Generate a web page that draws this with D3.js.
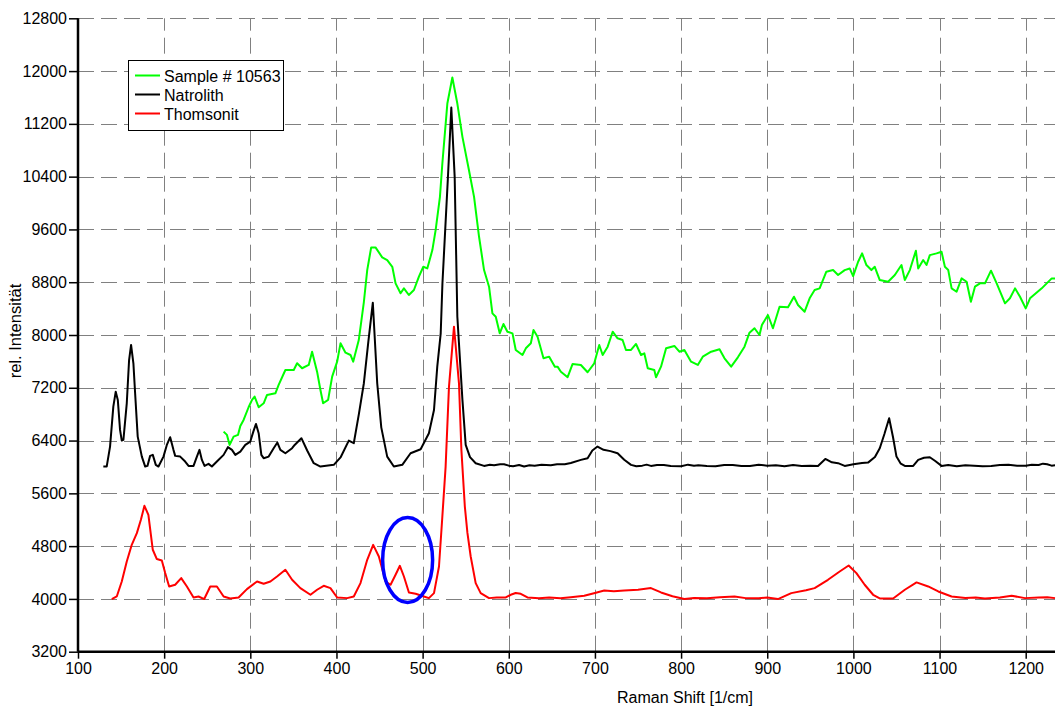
<!DOCTYPE html>
<html>
<head>
<meta charset="utf-8">
<script src="https://cdn.jsdelivr.net/npm/d3@7"></script>
<style>
  html, body { margin: 0; padding: 0; background: #fff; }
  svg { display: block; }
  text { font-family: "Liberation Sans", Arial, sans-serif; fill: #000; }
</style>
</head>
<body>
<svg id="chart" width="1057" height="727"></svg>
<script>
// ---------- DATA ----------
const xTicks = [100, 200, 300, 400, 500, 600, 700, 800, 900, 1000, 1100, 1200];
const yTicks = [3200, 4000, 4800, 5600, 6400, 7200, 8000, 8800, 9600, 10400, 11200, 12000, 12800];
const seriesNames = ["Sample # 10563", "Natrolith", "Thomsonit"];
const seriesColors = ["#00ff00", "#000000", "#ff0000"];

const sampleX = [269, 272.9, 276, 280.6, 285.7, 288.4, 292.2, 298, 302, 305, 309.7, 315.5, 319.4, 329.1, 332.9, 340.7, 346.5, 350.4, 354.3, 360.1, 367.8, 371.7, 377.5, 381.4, 384.5, 390.3, 395, 400.8, 404.7, 410.5, 416.3, 419.4, 425.9, 431.8, 435.7, 440.3, 445.3, 453.1, 458.9, 464.8, 468.6, 474.4, 478.3, 484, 489.9, 495.7, 500.8, 505.4, 511.3, 515.1, 520.1, 522.9, 528.7, 534.5, 540.3, 546.2, 553.8, 559.7, 565.5, 571.3, 577.1, 581, 584.9, 589.5, 593.8, 598.4, 604.3, 608.1, 615.9, 619.8, 625.6, 628.7, 633.4, 640.3, 646.9, 653.5, 656.6, 660.5, 668.3, 674.1, 683.7, 691.5, 699.2, 705, 709, 714.8, 720.6, 726.3, 732.1, 736, 741.9, 747.7, 753.5, 757.3, 761.3, 768.9, 770.9, 776.7, 782.6, 792.2, 798, 803.8, 811.6, 819.4, 825.2, 834.9, 844.6, 850.4, 858.1, 865.9, 873.6, 879.4, 885.2, 891, 893.8, 900.8, 906.6, 914.3, 924.1, 931, 935.7, 943.4, 949.2, 955, 960.8, 968.6, 976.4, 982.2, 989.9, 995.7, 999.7, 1005.5, 1010.1, 1015.1, 1020.9, 1024.8, 1030.6, 1040.3, 1048.1, 1055.8, 1059.7, 1065.5, 1072.5, 1075.2, 1081, 1084.9, 1088.7, 1096.5, 1102.3, 1106.2, 1110.1, 1114, 1119.8, 1125.6, 1131.4, 1136.4, 1141.1, 1146.9, 1152.7, 1159.7, 1166.3, 1176, 1181.7, 1187.6, 1193.4, 1200, 1205, 1218.6, 1230.2, 1234];
const sampleY = [6536, 6486, 6334, 6460, 6486, 6622, 6713, 6905, 7016, 7066, 6905, 6965, 7092, 7117, 7243, 7470, 7470, 7470, 7572, 7496, 7546, 7747, 7444, 7167, 6965, 7016, 7369, 7596, 7874, 7732, 7697, 7596, 7924, 8500, 8984, 9328, 9328, 9177, 9136, 9034, 8783, 8632, 8707, 8606, 8682, 8884, 9034, 9009, 9287, 9590, 10094, 10599, 11508, 11902, 11508, 11003, 10498, 10094, 9489, 8984, 8732, 8328, 8277, 8025, 8166, 8050, 8025, 7773, 7697, 7798, 7874, 8076, 7975, 7647, 7672, 7520, 7520, 7444, 7360, 7561, 7546, 7435, 7571, 7849, 7697, 7823, 8050, 7950, 7924, 7773, 7773, 7864, 7697, 7723, 7496, 7470, 7360, 7520, 7798, 7834, 7747, 7773, 7596, 7546, 7672, 7747, 7783, 7647, 7520, 7662, 7823, 8035, 8102, 8000, 8151, 8303, 8102, 8429, 8419, 8580, 8454, 8353, 8556, 8682, 8707, 8960, 8984, 8909, 8984, 9009, 8893, 9110, 9237, 9060, 8984, 9034, 8833, 8807, 8909, 9060, 8833, 8984, 9277, 9009, 9136, 9060, 9211, 9237, 9262, 9034, 8984, 8707, 8656, 8858, 8807, 8505, 8732, 8783, 8783, 8975, 8783, 8480, 8556, 8707, 8580, 8404, 8556, 8707, 8858, 8858];

const natrolithX = [129.4, 133.3, 137.2, 141, 143.8, 146.2, 148.8, 150.8, 152.7, 156.6, 159.3, 161.6, 164.3, 166.3, 169.3, 174.1, 178, 180.6, 183.7, 186.8, 190.3, 193.4, 199.2, 203.1, 207, 210.8, 212.8, 218.6, 224.4, 228.3, 234.1, 238, 241, 243.8, 246.9, 251.5, 255.4, 261.2, 269, 274, 278.7, 282.6, 288.4, 294.2, 300, 303.5, 306.6, 309.7, 312.8, 315.5, 321.3, 327.1, 331.4, 334.9, 340.7, 348.5, 351.5, 359.3, 366, 373.6, 381.4, 396.9, 405, 414.3, 420.1, 426, 431.8, 437, 442.2, 447.3, 452, 458.9, 466.6, 476.4, 486, 497.7, 507.3, 513.2, 517, 521, 523, 529.4, 533.3, 537.2, 540.3, 546.2, 550, 555, 561.6, 571.3, 578, 583, 590, 594.5, 600, 605, 612, 617.8, 624, 630, 638, 648.8, 656, 665, 672, 683.7, 691.5, 697, 703, 710, 718, 726.3, 734, 741.9, 748, 755, 760, 765, 772, 780, 788, 800, 808, 815, 820, 830, 840, 850, 860, 870, 880, 890, 900, 910, 920, 930, 940, 950, 958.9, 967.4, 975, 982.2, 989.9, 1000, 1010, 1017, 1025, 1030.6, 1036, 1041.5, 1046, 1050, 1055, 1059.7, 1069.4, 1075.2, 1082, 1088.7, 1095, 1102.3, 1110, 1120, 1130, 1140, 1150, 1160, 1170, 1180, 1190, 1200, 1207, 1215, 1220, 1225, 1230, 1234];
const natrolithY = [6006, 6006, 6309, 6914, 7141, 7016, 6561, 6400, 6410, 6965, 7621, 7849, 7571, 7117, 6460, 6157, 6006, 6016, 6168, 6183, 6032, 6006, 6157, 6334, 6451, 6259, 6168, 6157, 6082, 6016, 6016, 6157, 6259, 6107, 6016, 6047, 6006, 6082, 6183, 6300, 6259, 6183, 6233, 6334, 6385, 6536, 6652, 6511, 6183, 6133, 6157, 6284, 6370, 6259, 6208, 6284, 6334, 6436, 6250, 6057, 6006, 6032, 6150, 6400, 6360, 6800, 7269, 7900, 8489, 7269, 6600, 6157, 6006, 6032, 6208, 6269, 6512, 6864, 7520, 8026, 8783, 10397, 11448, 10397, 8277, 7016, 6334, 6150, 6057, 6016, 6035, 6025, 6040, 6042, 6020, 6010, 6030, 6006, 6025, 6020, 6035, 6025, 6040, 6040, 6060, 6107, 6133, 6250, 6309, 6260, 6240, 6208, 6110, 6032, 6010, 6020, 6035, 6016, 6030, 6030, 6015, 6010, 6035, 6020, 6025, 6015, 6010, 6030, 6030, 6015, 6015, 6035, 6020, 6025, 6010, 6030, 6015, 6020, 6016, 6122, 6070, 6057, 6016, 6040, 6060, 6066, 6150, 6284, 6500, 6739, 6450, 6157, 6050, 6016, 6016, 6107, 6140, 6148, 6090, 6016, 6030, 6010, 6025, 6020, 6010, 6015, 6030, 6035, 6020, 6020, 6035, 6030, 6050, 6040, 6020, 6025];

const thomsonitX = [139.2, 145, 150.8, 156.6, 162.4, 168.3, 173, 177.1, 181.7, 186.8, 191.5, 197.3, 201.2, 205.8, 212.8, 219.8, 226.4, 234.1, 239.9, 246.5, 253.5, 261.2, 269, 276.7, 286.4, 296.1, 307.8, 315.5, 323.3, 331, 340.7, 348.5, 358.1, 369.8, 377.5, 385.2, 393, 400.8, 412.4, 420.1, 427.9, 435.7, 442.6, 449.2, 457, 462.8, 468.6, 473.6, 478.3, 484.1, 491.9, 501.5, 507.3, 513.2, 519, 522.9, 526.7, 530.6, 536.4, 542.2, 545, 549, 552, 555.8, 561.6, 567.4, 577.1, 586, 596.5, 602.3, 608, 613.9, 621.7, 635, 646.9, 660, 672, 687.6, 700, 710.8, 722, 734.1, 750, 765, 776.7, 790, 803.8, 815, 830, 845, 862, 875, 890, 900, 912.4, 927.9, 945, 955, 970.5, 984.1, 994.5, 1003.5, 1013.1, 1022.9, 1030.6, 1046.1, 1059.7, 1073.3, 1086.8, 1098.5, 1114, 1130, 1142, 1152.7, 1170, 1183.7, 1199.2, 1215, 1225, 1234];
const thomsonitY = [3998, 4037, 4264, 4567, 4820, 4997, 5200, 5411, 5274, 4745, 4604, 4582, 4392, 4189, 4215, 4316, 4189, 4022, 4037, 3998, 4189, 4189, 4037, 4007, 4022, 4149, 4264, 4230, 4264, 4340, 4442, 4290, 4164, 4063, 4139, 4199, 4164, 4022, 4012, 4037, 4240, 4593, 4820, 4643, 4264, 4215, 4366, 4502, 4340, 4098, 4078, 4037, 4012, 4088, 4492, 5249, 6006, 7217, 8126, 7268, 6259, 5400, 5000, 4643, 4240, 4088, 4012, 4020, 4022, 4063, 4090, 4078, 4022, 4010, 4022, 4010, 4025, 4048, 4090, 4128, 4115, 4128, 4140, 4164, 4098, 4040, 3998, 4015, 4010, 4025, 4037, 4012, 4010, 4020, 3998, 4088, 4130, 4164, 4290, 4416, 4507, 4391, 4215, 4063, 4007, 4007, 4139, 4250, 4189, 4113, 4037, 4015, 4020, 4007, 4020, 4048, 4012, 4020, 4025, 4012];

// annotation ellipse (data units): centre x, centre y, radius x, radius y
const ellipseCenter = [482.6, 4590];
const ellipseRadii = [29, 643];

const xTitle = "Raman Shift [1/cm]";
const yTitle = "rel. Intensität";

// ---------- CHART ----------
const svg = d3.select("#chart");
const pLeft = 78, pRight = 1055, pTop = 18.3, pBottom = 651.7;
const x = d3.scaleLinear().domain([100, 1234]).range([pLeft, pRight]);
const y = d3.scaleLinear().domain([3200, 12800]).range([pBottom, pTop]);

svg.append("rect").attr("width", 1057).attr("height", 727).attr("fill", "#fff");

// grid
const grid = svg.append("g").attr("stroke", "#808080").attr("stroke-width", 1)
  .attr("stroke-dasharray", "16,7").attr("fill", "none");
grid.selectAll("line.h").data(yTicks.filter(v => v > 3200)).enter().append("line")
  .attr("x1", pLeft).attr("x2", pRight)
  .attr("y1", d => Math.round(y(d)) + 0.5).attr("y2", d => Math.round(y(d)) + 0.5);
grid.selectAll("line.v").data(xTicks.filter(v => v > 100)).enter().append("line")
  .attr("y1", pBottom).attr("y2", pTop)
  .attr("x1", d => Math.round(x(d)) + 0.5).attr("x2", d => Math.round(x(d)) + 0.5);

// series
const series = [
  { xs: sampleX, ys: sampleY },
  { xs: natrolithX, ys: natrolithY },
  { xs: thomsonitX, ys: thomsonitY }
];
const line = d3.line().x(d => x(d[0])).y(d => y(d[1]));
series.forEach((s, i) => {
  const pts = s.xs.map((v, k) => [v, s.ys[k]]);
  svg.append("path").datum(pts).attr("d", line)
    .attr("fill", "none").attr("stroke", seriesColors[i])
    .attr("stroke-width", 2).attr("stroke-linejoin", "round");
});

// ellipse annotation
svg.append("ellipse")
  .attr("cx", x(ellipseCenter[0])).attr("cy", y(ellipseCenter[1]))
  .attr("rx", x(ellipseCenter[0] + ellipseRadii[0]) - x(ellipseCenter[0]))
  .attr("ry", y(ellipseCenter[1]) - y(ellipseCenter[1] + ellipseRadii[1]))
  .attr("fill", "none").attr("stroke", "#0000ff").attr("stroke-width", 3.5);

// axes
const xAxis = d3.axisBottom(x).tickValues(xTicks).tickSize(7).tickPadding(4).tickFormat(d3.format("d"));
const gx = svg.append("g").attr("transform", `translate(0,${pBottom})`).call(xAxis);
gx.select(".domain").attr("stroke-width", 2.5).attr("d", `M${pLeft},0H${pRight}`);
gx.selectAll(".tick line").attr("stroke-width", 1.5);
gx.selectAll(".tick text").attr("font-size", 16).attr("font-family", "Liberation Sans, Arial, sans-serif");

const yAxis = d3.axisLeft(y).tickValues(yTicks).tickSize(9).tickPadding(2).tickFormat(d3.format("d"));
const gy = svg.append("g").attr("transform", `translate(${pLeft},0)`).call(yAxis);
gy.select(".domain").attr("stroke-width", 2.5).attr("d", `M0,${pBottom}V${pTop}`);
gy.selectAll(".tick line").attr("stroke-width", 1.5);
gy.selectAll(".tick text").attr("font-size", 16).attr("font-family", "Liberation Sans, Arial, sans-serif");

// titles
svg.append("text").attr("x", 685).attr("y", 703).attr("text-anchor", "middle")
  .attr("font-size", 16).text(xTitle);
svg.append("text").attr("transform", "translate(20.5,331) rotate(-90)")
  .attr("text-anchor", "middle").attr("font-size", 16.5).text(yTitle);

// legend
const lg = svg.append("g");
lg.append("rect").attr("x", 128.5).attr("y", 60.5).attr("width", 155).attr("height", 70)
  .attr("fill", "#fff").attr("stroke", "#000").attr("stroke-width", 1);
seriesNames.forEach((name, i) => {
  const ry = 75.5 + i * 19;
  lg.append("line").attr("x1", 135).attr("x2", 160).attr("y1", ry).attr("y2", ry)
    .attr("stroke", seriesColors[i]).attr("stroke-width", 2);
  lg.append("text").attr("x", 164).attr("y", ry + 6).attr("font-size", 16).text(name);
});
</script>
</body>
</html>
